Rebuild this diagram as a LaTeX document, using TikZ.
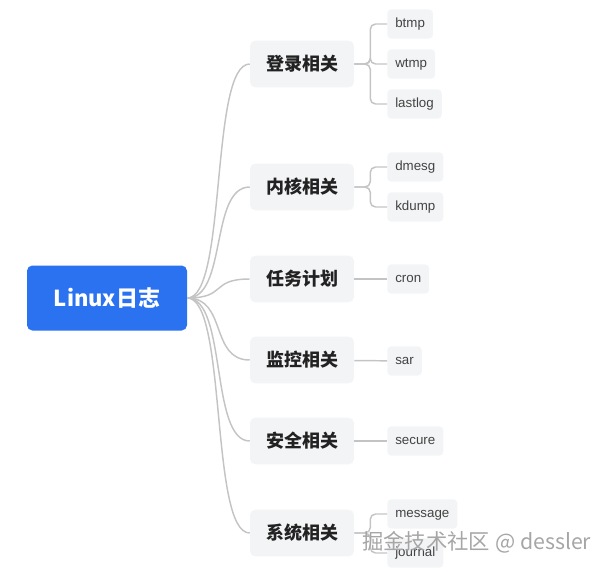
\documentclass[tikz,border=0pt]{standalone}
\usepackage{fontspec}
\setmainfont{Liberation Sans}
\newfontfamily\cjk{Noto Sans CJK SC}
\usetikzlibrary{positioning}
\definecolor{rootblue}{RGB}{43,114,240}
\definecolor{boxgray}{RGB}{243,244,246}
\definecolor{linegray}{RGB}{196,196,196}
\definecolor{textdark}{RGB}{34,34,34}

\begin{document}
\begin{tikzpicture}[
  x=0.75pt, y=-0.75pt,
  % Node Styles
  rootnode/.style={rectangle, rounded corners=4pt, fill=rootblue, text=white, minimum width=120pt, minimum height=48.75pt, font=\cjk\bfseries\fontsize{16.5}{18}\selectfont, align=center},
  topicbox/.style={rectangle, rounded corners=4pt, fill=boxgray, text=textdark, minimum width=78pt, minimum height=35pt, font=\cjk\bfseries\fontsize{13.5}{15}\selectfont, align=center},
  leafbox/.style={rectangle, rounded corners=3pt, fill=boxgray, text=textdark!85, anchor=west, minimum height=22pt, text height=7.5pt, text depth=2.2pt, inner xsep=6pt, font=\fontsize{10}{12}\selectfont},
  % Line Styles
  branch/.style={draw=linegray, line width=1.1pt},
  bracket/.style={draw=linegray, line width=1.1pt, rounded corners=4pt},
]
\useasboundingbox (0,0) rectangle (616,571);

% Mind map: Linux logs

\node[rootnode] (root) at (107,298) {Linux日志};

\node[topicbox] (login) at (302,64) {登录相关};
\node[topicbox] (kernel) at (302,187) {内核相关};
\node[topicbox] (task) at (302,279) {任务计划};
\node[topicbox] (monitor) at (302,360) {监控相关};
\node[topicbox] (security) at (302,441) {安全相关};
\node[topicbox] (system) at (302,533) {系统相关};

\node[leafbox] (btmp) at (387,24) {btmp};
\node[leafbox] (wtmp) at (387,64) {wtmp};
\node[leafbox] (lastlog) at (387,104) {lastlog};
\node[leafbox] (dmesg) at (387,167) {dmesg};
\node[leafbox] (kdump) at (387,207) {kdump};
\node[leafbox] (cron) at (387,279) {cron};
\node[leafbox] (sar) at (387,361) {sar};
\node[leafbox] (secure) at (387,441) {secure};
\node[leafbox] (message) at (387,514) {message};
\node[leafbox] (journal) at (387,553) {journal};

\foreach \t in {login,kernel,task,monitor,security,system}
  \draw[branch] (root.east) .. controls +(40,0) and +(-40,0) .. (\t.west);

\foreach \t/\l in {login/btmp,login/wtmp,login/lastlog,kernel/dmesg,kernel/kdump,system/message,system/journal}
  \draw[bracket] (\t.east) -- ++(16,0) |- (\l.west);

\draw[branch] (task) -- (cron);
\draw[branch] (monitor) -- (sar);
\draw[branch] (security) -- (secure);

\node[text=gray!70, anchor=west, inner sep=0pt, font=\cjk\fontsize{16}{18}\selectfont] (mark) at (362,542) {掘金技术社区 @ dessler};

\end{tikzpicture}
\end{document}
